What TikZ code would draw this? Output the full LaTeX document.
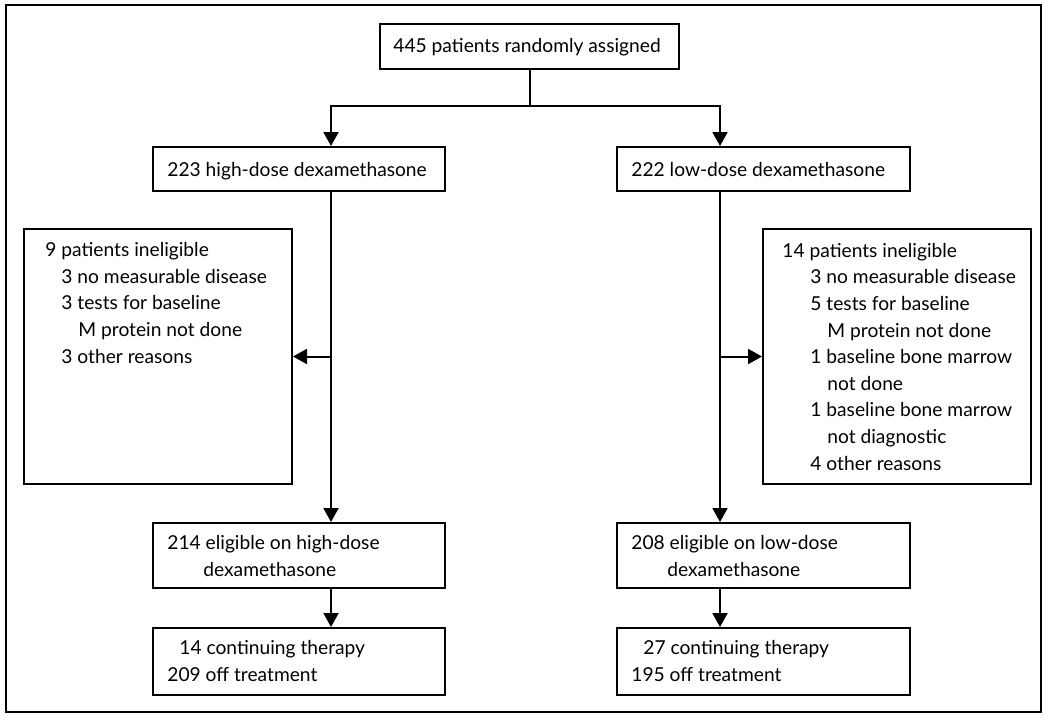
\documentclass[tikz,border=0pt]{standalone}
\usepackage{fontspec}
\setmainfont{Lato}
\usetikzlibrary{arrows.meta}
\usetikzlibrary{calc}

\tikzset{
  box/.style={draw, line width=1pt, rectangle, inner sep=0pt, anchor=north west},
  txt/.style={inner sep=0pt, anchor=base west, align=left,
    font=\fontsize{9.6}{13.3}\selectfont},
  flow/.style={line width=1pt, -{Triangle[length=7pt,width=7.5pt]}},
}

\begin{document}
\begin{tikzpicture}[x=0.5pt,y=-0.5pt]
  \useasboundingbox (0,0) rectangle (1050,719);
  \draw[line width=1.2pt] (6,5) rectangle (1041,712);

  % boxes
  \node[box, minimum width=149.5pt, minimum height=22.5pt] (rand) at (379,23) {};
  \node[box, minimum width=146pt, minimum height=22pt]   (high) at (152,146) {};
  \node[box, minimum width=146.5pt, minimum height=22pt] (low)  at (616,146) {};
  \node[box, minimum width=134pt, minimum height=127.5pt] (inhigh) at (23,228) {};
  \node[box, minimum width=134pt, minimum height=127.5pt] (inlow)  at (762,228) {};
  \node[box, minimum width=146pt, minimum height=32.5pt]   (elhigh) at (152,522) {};
  \node[box, minimum width=146.5pt, minimum height=32.5pt] (ellow)  at (616,522) {};
  \node[box, minimum width=146pt, minimum height=33.5pt]   (endhigh) at (152,627) {};
  \node[box, minimum width=146.5pt, minimum height=33.5pt] (endlow)  at (616,627) {};

  % texts (anchored at the baseline of their last line)
  \node[txt] (rand-t) at (393,52) {445 patients randomly assigned};
  \node[txt] (high-t) at (167,176) {223 high-dose dexamethasone};
  \node[txt] (low-t)  at (631,176) {222 low-dose dexamethasone};
  \node[txt] (inhigh-t) at (45,363) {9 patients ineligible\\
    \hspace*{8pt}3 no measurable disease\\
    \hspace*{8pt}3 tests for baseline\\
    \hspace*{16.5pt}M protein not done\\
    \hspace*{8pt}3 other reasons};
  \node[txt] (inlow-t) at (782,470) {14 patients ineligible\\
    \hspace*{14pt}3 no measurable disease\\
    \hspace*{14pt}5 tests for baseline\\
    \hspace*{22.5pt}M protein not done\\
    \hspace*{14pt}1 baseline bone marrow\\
    \hspace*{22.5pt}not done\\
    \hspace*{14pt}1 baseline bone marrow\\
    \hspace*{22.5pt}not diagnostic\\
    \hspace*{14pt}4 other reasons};
  \node[txt] (elhigh-t) at (167,576) {214 eligible on high-dose\\
    \hspace*{18pt}dexamethasone};
  \node[txt] (ellow-t) at (631,576) {208 eligible on low-dose\\
    \hspace*{18pt}dexamethasone};
  \node[txt] (endhigh-t) at (167,681) {\hspace*{6pt}14 continuing therapy\\
    209 off treatment};
  \node[txt] (endlow-t) at (631,681) {\hspace*{6pt}27 continuing therapy\\
    195 off treatment};

  \coordinate (lt) at (331,106);
  \coordinate (rt) at (720,106);

  \draw[line width=1pt] (rand.south) -- (rand.south |- lt);
  \draw[flow] (rand.south |- lt) -- (lt) -- (lt |- high.north);
  \draw[flow] (rand.south |- lt) -- (rt) -- (rt |- low.north);
  \draw[flow] (lt |- high.south) -- (lt |- elhigh.north);
  \draw[flow] (rt |- low.south) -- (rt |- ellow.north);
  \draw[flow] (lt |- inhigh.east) -- (inhigh.east);
  \draw[flow] (rt |- inlow.west) -- (inlow.west);
  \draw[flow] (lt |- elhigh.south) -- (lt |- endhigh.north);
  \draw[flow] (rt |- ellow.south) -- (rt |- endlow.north);
\end{tikzpicture}
\end{document}
